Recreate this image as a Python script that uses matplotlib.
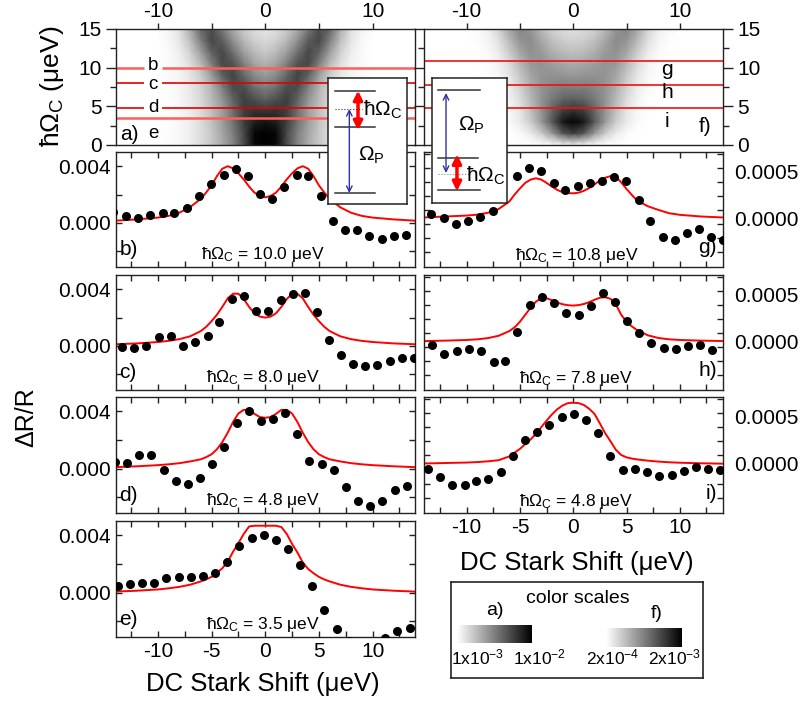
import numpy as np
import matplotlib
matplotlib.use('Agg')
import matplotlib.pyplot as plt
from matplotlib.colors import LogNorm
from matplotlib.colorbar import ColorbarBase

plt.rcParams['font.family'] = ['Liberation Sans', 'DejaVu Sans']
plt.rcParams['mathtext.default'] = 'regular'
plt.rcParams['axes.unicode_minus'] = False

# ---------------- data ----------------
# grey maps (darkness 0..1), rows at hbar*Omega_C values, columns at x = 0..10 (symmetric)
map_y = [0, 1.5, 3, 4.5, 6, 7.5, 9, 10.5, 12, 13.5, 15]
map_x_half = [0, 1, 2, 3, 4, 5, 6, 7, 8, 9, 10]
map_a_half = [
    [1.0, 0.97, 0.70, 0.48, 0.33, 0.22, 0.13, 0.07, 0.03, 0.01, 0.0],
    [1.0, 0.97, 0.72, 0.50, 0.35, 0.22, 0.13, 0.07, 0.03, 0.01, 0.0],
    [0.92, 0.88, 0.75, 0.55, 0.38, 0.24, 0.14, 0.07, 0.03, 0.01, 0.0],
    [0.78, 0.80, 0.75, 0.57, 0.38, 0.25, 0.14, 0.07, 0.03, 0.01, 0.0],
    [0.62, 0.68, 0.75, 0.62, 0.42, 0.27, 0.15, 0.08, 0.03, 0.01, 0.0],
    [0.50, 0.56, 0.70, 0.70, 0.50, 0.30, 0.17, 0.09, 0.04, 0.01, 0.0],
    [0.40, 0.46, 0.60, 0.74, 0.62, 0.38, 0.20, 0.10, 0.04, 0.02, 0.0],
    [0.30, 0.36, 0.50, 0.68, 0.72, 0.50, 0.27, 0.13, 0.05, 0.02, 0.0],
    [0.22, 0.27, 0.38, 0.56, 0.72, 0.62, 0.38, 0.18, 0.07, 0.02, 0.0],
    [0.15, 0.19, 0.28, 0.44, 0.64, 0.72, 0.50, 0.25, 0.10, 0.03, 0.0],
    [0.10, 0.13, 0.20, 0.33, 0.52, 0.70, 0.60, 0.32, 0.12, 0.04, 0.01],
]
map_f_half = [
    [0.05, 0.03, 0.01, 0.0, 0.0, 0.0, 0.0, 0.0, 0.0, 0.0, 0.0],
    [0.75, 0.65, 0.40, 0.20, 0.08, 0.02, 0.0, 0.0, 0.0, 0.0, 0.0],
    [0.98, 0.90, 0.65, 0.40, 0.20, 0.08, 0.02, 0.0, 0.0, 0.0, 0.0],
    [0.80, 0.75, 0.60, 0.42, 0.25, 0.10, 0.03, 0.01, 0.0, 0.0, 0.0],
    [0.62, 0.60, 0.52, 0.42, 0.28, 0.14, 0.05, 0.01, 0.0, 0.0, 0.0],
    [0.50, 0.50, 0.47, 0.42, 0.32, 0.18, 0.07, 0.02, 0.0, 0.0, 0.0],
    [0.40, 0.42, 0.43, 0.42, 0.35, 0.22, 0.10, 0.03, 0.01, 0.0, 0.0],
    [0.33, 0.35, 0.38, 0.42, 0.40, 0.28, 0.14, 0.05, 0.01, 0.0, 0.0],
    [0.25, 0.27, 0.32, 0.40, 0.43, 0.35, 0.20, 0.08, 0.02, 0.0, 0.0],
    [0.18, 0.20, 0.25, 0.35, 0.45, 0.42, 0.27, 0.12, 0.04, 0.01, 0.0],
    [0.12, 0.14, 0.18, 0.28, 0.42, 0.48, 0.35, 0.17, 0.06, 0.02, 0.0],
]
lines_a = [10.0, 8.0, 4.8, 3.5]
names_a = ['b', 'c', 'd', 'e']
name_y_a = [10.3, 7.8, 4.85, 1.5]
lines_f = [10.8, 7.8, 4.8]
names_f = ['g', 'h', 'i']
name_y_f = [9.7, 6.8, 3.1]

# measured points (left panels in 1e-3, right panels in 1e-4)
b_x = [-14.15, -13.0, -11.85, -10.7, -9.55, -8.47, -7.29, -6.14, -5.05, -3.88, -2.76, -1.64, -0.47,
       0.65, 1.77, 2.95, 4.03, 5.15, 6.29, 7.44, 8.59, 9.7, 10.85, 12.0, 13.1]
b_y = [0.8, 0.47, 0.35, 0.56, 0.67, 0.67, 1.09, 1.93, 2.72, 3.35, 3.77, 3.30, 2.05,
       1.67, 2.56, 3.40, 3.33, 1.91, 0.16, -0.47, -0.51, -0.93, -1.12, -0.93, -0.88]
c_x = [-13.3, -12.2, -11.07, -9.9, -8.8, -7.66, -6.5, -5.36, -4.28, -3.1, -1.98, -0.84, 0.28,
       1.43, 2.54, 3.66, 4.8, 5.95, 7.04, 8.2, 9.33, 10.45, 11.63, 12.78, 13.9]
c_y = [-0.05, -0.12, 0.02, 0.66, 0.73, 0.02, 0.26, 0.68, 1.69, 3.34, 3.53, 2.45, 2.49,
       3.25, 3.65, 3.72, 2.42, 0.4, -0.66, -1.29, -1.39, -1.34, -1.08, -0.87, -0.87]
d_x = [-13.95, -12.87, -11.72, -10.6, -9.46, -8.34, -7.19, -6.05, -4.93, -3.81, -2.64, -1.55, -0.37,
       0.71, 1.83, 2.98, 4.12, 5.27, 6.36, 7.53, 8.68, 9.77, 10.91, 12.09, 13.18]
d_y = [0.43, 0.38, 0.98, 0.98, -0.12, -0.86, -1.1, -0.69, 0.33, 1.52, 3.19, 4.0, 3.33,
       3.45, 3.88, 2.43, 0.55, 0.29, -0.1, -1.29, -2.29, -2.62, -2.24, -1.52, -1.24]
e_x = [-13.7, -12.6, -11.47, -10.36, -9.24, -8.06, -6.95, -5.83, -4.71, -3.57, -2.42, -1.24, -0.16,
       0.99, 2.1, 3.22, 4.37, 5.49, 6.67, 7.78, 8.9, 10.05, 11.16, 12.3, 13.5]
e_y = [0.48, 0.62, 0.65, 0.69, 1.05, 1.1, 1.1, 1.15, 1.34, 2.16, 3.26, 3.83, 4.0,
       3.69, 3.02, 1.96, 0.46, -1.2, -2.56, -3.35, -3.7, -3.6, -3.2, -2.68, -2.49]
g_x = [-13.33, -12.17, -11.0, -9.89, -8.73, -7.57, -5.29, -4.13, -3.04, -1.85, -0.75, 0.44,
       1.53, 2.69, 3.85, 4.98, 6.13, 7.23, 8.42, 9.58, 10.67, 11.83, 12.96, 14.05]
g_y = [0.46, 0.0, -0.64, -0.29, 0.14, 0.82, 4.54, 5.43, 5.1, 3.82, 3.04, 3.46,
       3.75, 4.0, 4.46, 4.0, 1.96, -0.29, -1.96, -2.32, -1.61, -1.18, -1.96, -2.3]
h_x = [-13.24, -12.08, -10.92, -9.8, -8.67, -7.48, -6.38, -5.23, -4.07, -2.94, -1.78, -0.66,
       0.5, 1.66, 2.79, 3.94, 5.07, 6.17, 7.32, 8.48, 9.61, 10.76, 11.92, 13.05]
h_y = [-0.39, -1.35, -1.06, -0.78, -1.06, -2.2, -2.13, 0.96, 3.9, 4.72, 4.11, 3.05,
       2.77, 3.83, 5.14, 4.18, 2.2, 0.89, -0.14, -0.71, -0.78, -0.5, -0.35, -0.96]
i_x = [-13.65, -12.49, -11.39, -10.2, -9.08, -7.95, -6.79, -5.67, -4.51, -3.41, -2.25, -1.06, 0.03,
       1.22, 2.35, 3.47, 4.66, 5.82, 6.92, 8.08, 9.24, 10.37, 11.49, 12.62, 13.8]
i_y = [-0.57, -1.43, -2.21, -2.21, -1.79, -1.64, -0.82, 0.89, 2.54, 3.39, 4.18, 4.96, 5.25,
       4.64, 3.29, 0.89, -0.64, -0.5, -0.82, -1.32, -1.18, -0.71, -0.29, -0.5, -0.64]

# fitted curves, read at these shifts
fit_x = [-14, -12, -10, -9, -8, -7, -6, -5.5, -5, -4.5, -4, -3.5, -3, -2.5, -2, -1.5, -1, -0.5, 0,
         0.5, 1, 1.5, 2, 2.5, 3, 3.5, 4, 4.5, 5, 5.5, 6, 7, 8, 9, 10, 12, 14]
fit_b = [0.16, 0.25, 0.38, 0.5, 0.72, 1.12, 1.7, 2.15, 2.65, 3.3, 3.82, 4.0, 3.85, 3.5, 3.07, 2.56, 2.14, 1.9, 1.81,
         1.9, 2.14, 2.56, 3.07, 3.5, 3.85, 4.0, 3.82, 3.3, 2.65, 2.15, 1.7, 1.1, 0.72, 0.5, 0.38, 0.25, 0.16]
fit_c = [0.12, 0.18, 0.28, 0.36, 0.48, 0.68, 1.05, 1.35, 1.75, 2.2, 2.75, 3.35, 3.68, 3.68, 3.3, 2.75, 2.3, 2.07, 2.0,
         2.07, 2.3, 2.75, 3.3, 3.68, 3.68, 3.35, 2.75, 2.2, 1.75, 1.35, 1.05, 0.68, 0.48, 0.36, 0.28, 0.18, 0.12]
fit_d = [0.1, 0.16, 0.24, 0.3, 0.38, 0.5, 0.65, 0.8, 1.0, 1.35, 1.85, 2.5, 3.25, 3.85, 4.1, 4.1, 3.82, 3.6, 3.55,
         3.6, 3.82, 4.1, 4.1, 3.85, 3.25, 2.5, 1.85, 1.35, 1.0, 0.8, 0.65, 0.5, 0.38, 0.3, 0.24, 0.16, 0.1]
fit_e = [0.07, 0.13, 0.22, 0.3, 0.4, 0.55, 0.78, 0.92, 1.1, 1.38, 1.7, 2.15, 2.85, 3.45, 4.1, 4.62, 4.67, 4.67, 4.67,
         4.67, 4.67, 4.58, 4.1, 3.4, 2.8, 2.1, 1.65, 1.35, 1.1, 0.92, 0.78, 0.55, 0.4, 0.3, 0.22, 0.13, 0.07]
fit_g = [0.1, 0.2, 0.3, 0.4, 0.6, 1.0, 1.8, 2.55, 3.2, 3.8, 4.15, 4.29, 4.15, 3.8, 3.4, 3.05, 2.8, 2.7, 2.68,
         2.75, 2.95, 3.25, 3.65, 4.05, 4.35, 4.52, 4.45, 3.85, 3.15, 2.5, 1.9, 1.3, 0.9, 0.55, 0.38, 0.2, 0.1]
fit_h = [0.03, 0.08, 0.15, 0.22, 0.35, 0.6, 1.1, 1.5, 2.1, 2.85, 3.6, 4.25, 4.6, 4.62, 4.4, 4.15, 3.97, 3.87, 3.83,
         3.88, 4.0, 4.2, 4.45, 4.67, 4.72, 4.55, 3.95, 2.85, 2.1, 1.6, 1.2, 0.65, 0.36, 0.22, 0.15, 0.08, 0.04]
fit_i = [0.05, 0.1, 0.15, 0.2, 0.28, 0.4, 0.8, 1.2, 1.6, 2.1, 2.6, 3.2, 3.9, 4.6, 5.25, 5.8, 6.2, 6.45, 6.5,
         6.45, 6.25, 5.85, 5.3, 4.3, 3.25, 2.4, 1.5, 0.95, 0.7, 0.57, 0.48, 0.35, 0.25, 0.18, 0.13, 0.07, 0.03]

omega_b = ['10.0', '8.0', '4.8', '3.5']
omega_g = ['10.8', '7.8', '4.8']

# ---------------- layout ----------------
W, H = 802, 704
fig = plt.figure(figsize=(W / 100, H / 100), dpi=100)


def box(x0, y0, x1, y1):
    return [x0 / W, 1 - y1 / H, (x1 - x0) / W, (y1 - y0) / H]


FS = 15
LC = '#222222'
xl_left = (-13.9, 13.95)
xl_right = (-14.0, 14.05)


def mirror(row):
    return row[:0:-1] + row


x_full = [-v for v in map_x_half[:0:-1]] + map_x_half


def style_spines(ax):
    for s in ax.spines.values():
        s.set_linewidth(1.0)
        s.set_color(LC)


def map_panel(ax, half, xl, labels_right):
    Z = np.array([mirror(r) for r in half])
    ax.pcolormesh(x_full, map_y, Z, shading='gouraud', cmap='gray_r', vmin=0, vmax=1)
    ax.set_xlim(*xl)
    ax.set_ylim(0, 15)
    style_spines(ax)
    ax.set_xticks([-10, 0, 10])
    ax.set_xticks([-5, 5], minor=True)
    ax.xaxis.tick_top()
    ax.tick_params(axis='x', which='both', direction='out', length=4, width=1, color=LC,
                   labelsize=FS, pad=2, bottom=False, top=True)
    ax.set_yticks([0, 5, 10, 15])
    ax.set_yticks([2.5, 7.5, 12.5], minor=True)
    if labels_right:
        ax.yaxis.tick_right()
    ax.tick_params(axis='y', which='major', direction='out', length=7, width=1, labelsize=FS)
    ax.tick_params(axis='y', which='minor', direction='out', length=4, width=1)
    if labels_right:
        ax.tick_params(axis='y', which='both', left=True, color=LC)
    else:
        ax.tick_params(axis='y', which='both', right=False, color=LC)


ax_a = fig.add_axes(box(116, 29, 415, 145))
map_panel(ax_a, map_a_half, xl_left, False)
for yv, nm, ny, lw, col in zip(lines_a, names_a, name_y_a, [1.8, 1.2, 1.2, 1.8],
                               ['#ff5c5c', '#e00000', '#e00000', '#ff5c5c']):
    if nm == 'e':
        ax_a.axhline(yv, color=col, lw=lw)
    else:
        # line broken where the letter sits
        ax_a.hlines(yv, xl_left[0], -11.25, color=col, lw=lw)
        ax_a.hlines(yv, -9.65, xl_left[1], color=col, lw=lw)
    ax_a.text(-10.45, ny, nm, ha='center', va='center', fontsize=13.5)
ax_a.text(-13.5, 1.4, 'a)', ha='left', va='center', fontsize=FS)

ax_f = fig.add_axes(box(424, 29, 723, 145))
map_panel(ax_f, map_f_half, xl_right, True)
for yv in lines_f:
    ax_f.axhline(yv, color='#ee1111', lw=1.2)
for ny, nm in zip(name_y_f, names_f):
    ax_f.text(8.8, ny, nm, ha='center', va='center', fontsize=FS)
ax_f.text(12.4, 2.45, 'f)', ha='center', va='center', fontsize=FS)

# line panels
left_rows = [(152, 267), (275, 390), (397, 513), (521, 637)]
right_rows = [(152, 267), (275, 390), (397, 513)]
left_data = [(b_x, b_y, fit_b), (c_x, c_y, fit_c), (d_x, d_y, fit_d), (e_x, e_y, fit_e)]
right_data = [(g_x, g_y, fit_g), (h_x, h_y, fit_h), (i_x, i_y, fit_i)]
left_tags = ['b)', 'c)', 'd)', 'e)']
right_tags = ['g)', 'h)', 'i)']
right_minor = [-0.00036, -0.00021, -0.00006, 0.00009, 0.00024, 0.00039, 0.00054, 0.00069]


def line_panel(ax, xs, ys, fit, scale, xl, ylim):
    ax.plot(fit_x, np.array(fit) * scale, color='#ff0000', lw=1.4, zorder=2)
    ax.plot(xs, np.array(ys) * scale, 'o', color='black', ms=6.5, mec='none', zorder=3)
    ax.set_xlim(*xl)
    ax.set_ylim(*ylim)
    style_spines(ax)
    ax.set_xticks([-10, -5, 0, 5, 10])
    ax.set_xticks([-12.5, -7.5, -2.5, 2.5, 7.5, 12.5], minor=True)
    ax.tick_params(which='both', direction='in', top=True, right=True, length=4, width=1,
                   color=LC, labelsize=FS)


for k, ((y0, y1), (xs, ys, fit)) in enumerate(zip(left_rows, left_data)):
    ax = fig.add_axes(box(116, y0, 415, y1))
    line_panel(ax, xs, ys, fit, 1e-3, xl_left, (-0.0031, 0.0050))
    ax.set_yticks([0.0, 0.004])
    ax.set_yticklabels(['0.000', '0.004'])
    ax.set_yticks([-0.002, 0.002], minor=True)
    if k < 3:
        ax.tick_params(labelbottom=False)
    else:
        ax.set_xticklabels(['-10', '-5', '0', '5', '10'])
    ax.text(0.012, 0.15, left_tags[k], transform=ax.transAxes, ha='left', va='center', fontsize=FS)
    ax.text(0.49, 0.11, 'ħΩ$_C$ = ' + omega_b[k] + ' μeV', transform=ax.transAxes,
            ha='center', va='center', fontsize=12.5)

for k, ((y0, y1), (xs, ys, fit)) in enumerate(zip(right_rows, right_data)):
    ax = fig.add_axes(box(424, y0, 723, y1))
    line_panel(ax, xs, ys, fit, 1e-4, xl_right, (-0.00052, 0.00071))
    ax.yaxis.tick_right()
    ax.set_yticks([0.0, 0.0005])
    ax.set_yticklabels(['0.0000', '0.0005'])
    ax.set_yticks(right_minor, minor=True)
    ax.tick_params(axis='y', which='major', length=0, pad=8)
    ax.tick_params(axis='y', which='minor', left=True, right=True)
    if k < 2:
        ax.tick_params(labelbottom=False)
    else:
        ax.set_xticklabels(['-10', '-5', '0', '5', '10'])
    ax.text(0.98, 0.17, right_tags[k], transform=ax.transAxes, ha='right', va='center', fontsize=FS)
    ax.text(0.51, 0.10, 'ħΩ$_C$ = ' + omega_g[k] + ' μeV', transform=ax.transAxes,
            ha='center', va='center', fontsize=12.5)

# axis titles
fig.text(52 / W, 1 - 86 / H, 'ħΩ$_C$ (μeV)', rotation=90, ha='center', va='center', fontsize=19)
fig.text(26 / W, 1 - 417 / H, 'ΔR/R', rotation=90, ha='center', va='center', fontsize=18)
fig.text(263 / W, 1 - 684 / H, 'DC Stark Shift (μeV)', ha='center', va='center', fontsize=18.5)
fig.text(577 / W, 1 - 563 / H, 'DC Stark Shift (μeV)', ha='center', va='center', fontsize=18.5)

# level-scheme insets
lev = dict(color='#333333', lw=1.1)


def inset(rect):
    ax = fig.add_axes(rect, zorder=10)
    ax.set_xlim(0, 1)
    ax.set_ylim(0, 1)
    ax.set_xticks([])
    ax.set_yticks([])
    for s in ax.spines.values():
        s.set_linewidth(1.1)
        s.set_color('#222222')
    return ax


ia = inset(box(328, 78, 407, 204))
ia.plot([0.09, 0.6], [0.897, 0.897], **lev)
ia.plot([0.09, 0.6], [0.611, 0.611], **lev)
ia.plot([0.09, 0.6], [0.087, 0.087], **lev)
ia.plot([0.09, 0.43], [0.754, 0.754], color='#333333', lw=0.8, ls=':')
ia.annotate('', xy=(0.38, 0.90), xytext=(0.38, 0.585),
            arrowprops=dict(arrowstyle='<|-|>', color='red', lw=2.5, mutation_scale=13,
                            shrinkA=0, shrinkB=0))
ia.annotate('', xy=(0.27, 0.754), xytext=(0.27, 0.087),
            arrowprops=dict(arrowstyle='<->', color='#3030a0', lw=1.0, mutation_scale=10,
                            shrinkA=0, shrinkB=0))
ia.text(0.44, 0.75, 'ħΩ$_C$', ha='left', va='center', fontsize=15)
ia.text(0.38, 0.39, 'Ω$_P$', ha='left', va='center', fontsize=15)

ib = inset(box(432, 78, 507, 203))
ib.plot([0.08, 0.64], [0.904, 0.904], **lev)
ib.plot([0.08, 0.61], [0.36, 0.36], **lev)
ib.plot([0.08, 0.64], [0.104, 0.104], **lev)
ib.plot([0.08, 0.5], [0.232, 0.232], color='#888888', lw=0.8, ls=':')
ib.annotate('', xy=(0.187, 0.88), xytext=(0.187, 0.24),
            arrowprops=dict(arrowstyle='<->', color='#3030a0', lw=1.0, mutation_scale=10,
                            shrinkA=0, shrinkB=0))
ib.annotate('', xy=(0.333, 0.39), xytext=(0.333, 0.095),
            arrowprops=dict(arrowstyle='<|-|>', color='red', lw=2.5, mutation_scale=13,
                            shrinkA=0, shrinkB=0))
ib.text(0.35, 0.62, 'Ω$_P$', ha='left', va='center', fontsize=15)
ib.text(0.45, 0.22, 'ħΩ$_C$', ha='left', va='center', fontsize=15)

# colour-scale legend
lg = fig.add_axes(box(451, 582, 703, 678))
lg.set_xticks([])
lg.set_yticks([])
for s in lg.spines.values():
    s.set_linewidth(1.2)
    s.set_color('#222222')
lg.text(0.504, 0.83, 'color scales', ha='center', va='center', fontsize=14)
lg.text(0.175, 0.70, 'a)', ha='center', va='center', fontsize=14)
lg.text(0.817, 0.67, 'f)', ha='center', va='center', fontsize=14)
for xt, lab in zip([0.107, 0.353, 0.643, 0.889],
                   ['1x10$^{-3}$', '1x10$^{-2}$', '2x10$^{-4}$', '2x10$^{-3}$']):
    lg.text(xt, 0.21, lab, ha='center', va='center', fontsize=12.5)

for rect, lo, hi in [(box(457, 625, 532, 643), 1e-3, 1e-2), (box(606, 628, 682, 647), 2e-4, 2e-3)]:
    cax = fig.add_axes(rect)
    cb = ColorbarBase(cax, cmap='gray_r', norm=LogNorm(lo, hi), orientation='horizontal')
    cb.set_ticks([])
    cb.ax.minorticks_off()
    cb.outline.set_visible(False)

fig.savefig('out.png', dpi=100)
